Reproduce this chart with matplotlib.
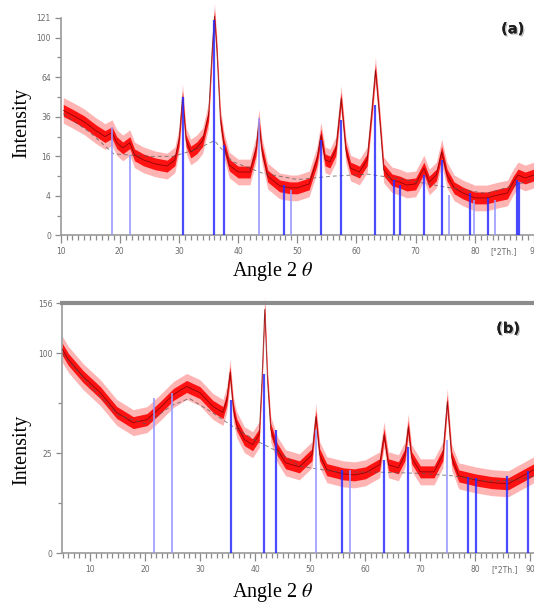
import numpy as np
import matplotlib
matplotlib.use("Agg")
import matplotlib.pyplot as plt
from matplotlib import patheffects
from matplotlib.ticker import FixedLocator, MultipleLocator

# ---------------- panel (a) ----------------
two_theta_a = [10.45, 12, 14, 16, 17.5, 18.7, 19.5, 20.5, 21.7, 22.5, 24, 26, 28, 29.3,
               30.0, 30.6, 31.2, 32, 33, 34, 35.0, 35.6, 36.0, 36.4, 37.0, 37.6, 38.5,
               40, 42, 43.0, 43.5, 44.0, 45, 47, 48.8, 50, 52, 53.3, 54.0, 54.7, 55.5,
               56.5, 57.4, 58.2, 59, 60.5, 61.8, 62.6, 63.2, 63.8, 64.6, 66, 67.3, 68.5,
               70, 71.4, 72.3, 73.5, 74.4, 75.3, 76.5, 78, 80, 82, 84, 85.5, 86.5, 87.3,
               88.5, 90.0]
counts_a = [40, 37, 33, 28, 25, 27, 22, 19.6, 22, 16.6, 14.6, 13.1, 12.3, 14.6,
            23, 49, 23, 17.8, 19.6, 23, 37, 88, 123, 88, 34, 21, 12.7,
            10.3, 10.3, 18.7, 33, 18.7, 9.0, 6.3, 5.8, 5.8, 6.8, 14.6, 25.8, 14.6, 13.8,
            18.7, 48, 18.7, 11.6, 10.3, 14.6, 40, 70, 40, 11, 7.9, 7.3, 6.5,
            6.8, 11.6, 7.3, 9.35, 17.8, 9.35, 5.8, 4.6, 3.6, 3.6, 4.2, 4.6, 7.3, 9.35,
            8.45, 9.35]
bg_theta_a = [10.45, 15, 19, 25, 29, 33, 36, 39, 44, 50, 56, 62, 68, 75, 82, 90.0]
bg_counts_a = [38, 27, 17, 16, 16, 19, 23, 14, 10, 8, 9, 9.6, 8, 6, 4.5, 8]
ref_pos_a_strong = [30.6, 36.0, 37.6, 47.7, 54.0, 57.4, 63.2, 66.3, 67.3, 71.4, 74.4,
                    79.2, 82.3, 87.1, 87.5]
ref_int_a_strong = [49, 119, 20.9, 6.5, 23.3, 34.1, 43.5, 7.9, 6.5, 9.35, 14.6,
                    4.6, 3.6, 7.9, 7.3]
ref_pos_a_weak = [18.7, 21.7, 43.5, 48.9, 75.6, 79.8, 83.4]
ref_int_a_weak = [30.1, 16.6, 35.3, 5.3, 4.2, 3.2, 3.2]
yticks_a = [0, 4, 16, 36, 64, 100, 121]
ylabels_a = ["0", "4", "16", "36", "64", "100", "121"]
yminor_a = [1, 9, 25, 49, 81]

# ---------------- panel (b) ----------------
two_theta_b = [4.9, 6, 8.7, 11.8, 14.8, 17.8, 20.3, 22.7, 25.1, 27.5, 29.9, 32.3, 34.1,
               34.8, 35.4, 36.0, 36.6, 38, 39.5, 40.7, 41.2, 41.7, 42.2, 42.8, 44, 45.5,
               48, 50.3, 51.0, 51.7, 53, 56, 58, 60, 62.6, 63.4, 64.2, 66, 67.2, 67.8,
               68.4, 70, 72.5, 74.1, 74.9, 75.7, 77, 80, 83, 86, 88, 90.67]
counts_b = [104, 94, 78, 64.6, 49.6, 42.7, 44.7, 53.1, 63.1, 69.6, 64.6, 53.9, 49.6,
            59.1, 81.8, 51.7, 41.4, 32.3, 29.5, 35.2, 75.6, 148.8, 75.6, 38.3, 26.9, 20.5,
            18.7, 24.3, 46.7, 24.3, 17.5, 15.8, 15.4, 16.2, 19.6, 35.2, 19.6, 18.3, 24.3, 40.1,
            22.9, 16.6, 16.6, 24.3, 57.6, 22.9, 15.0, 13.5, 12.5, 12.1, 14.3, 17.5]
bg_theta_b = [4.9, 10, 15, 20, 25, 28, 32, 36, 40, 44, 48, 55, 62, 70, 76, 82, 88, 90.67]
bg_counts_b = [100, 70, 48, 42, 55, 60, 50, 40, 32, 26, 19, 16.5, 16.5, 16, 15, 13, 13.5, 15]
ref_pos_b_strong = [35.5, 41.6, 43.7, 55.8, 63.4, 67.8, 78.7, 80.1, 85.7, 89.6]
ref_int_b_strong = [59.1, 80, 38.3, 17.5, 21.9, 28.4, 14.7, 14.3, 15.0, 17.1]
ref_pos_b_weak = [21.5, 24.9, 51.0, 57.3, 74.9]
ref_int_b_weak = [60.7, 64.6, 38.3, 17.5, 32.3]
yticks_b = [0, 25, 100, 156.25]
ylabels_b = ["0", "25", "100", "156"]
yminor_b = [6.25, 56.25]

x_labels = [10, 20, 30, 40, 50, 60, 70, 80, 90]

plt.rcParams["mathtext.fontset"] = "stix"
SERIF = ["Liberation Serif", "DejaVu Serif"]


def sqrt_fwd(v):
    return np.sqrt(np.clip(v, 0, None))


def sqrt_inv(s):
    return np.square(s)


def draw_panel(ax, tt, cnt, bg_t, bg_c, pos_s, int_s, pos_w, int_w,
               xlim, yticks, ylabels, yminor, unit_x, tag, tag_xy, top_line):
    ax.set_yscale("function", functions=(sqrt_fwd, sqrt_inv))
    tt = np.asarray(tt, float)
    root = np.sqrt(np.asarray(cnt, float))
    # noise envelope drawn as bands around the measured profile (in sqrt space)
    outer_lo = np.clip(root - 0.65, 0, None) ** 2
    outer_hi = (root + 0.65) ** 2
    inner_lo = np.clip(root - 0.3, 0, None) ** 2
    inner_hi = (root + 0.3) ** 2
    ax.fill_between(tt, outer_lo, outer_hi, color="#ff5a5a", alpha=0.45, lw=0,
                    clip_on=False, zorder=2)
    ax.fill_between(tt, inner_lo, inner_hi, color="#ff0000", alpha=0.9, lw=0,
                    clip_on=False, zorder=3)
    ax.plot(tt, cnt, color="#600000", lw=0.6, alpha=0.7, zorder=4, clip_on=False)
    ax.plot(bg_t, bg_c, color="#555555", lw=0.7, alpha=0.7, dashes=(4, 3), zorder=4)

    # reference stick pattern
    ax.vlines(pos_w, 0, int_w, color="#9a9aff", lw=1.3, alpha=0.9, zorder=5)
    ax.vlines(pos_s, 0, int_s, color="#2b2bff", lw=1.6, alpha=0.85, zorder=5)

    ax.set_xlim(*xlim)
    ax.set_ylim(0, yticks[-1])
    ax.set_xticks(x_labels)
    ax.set_xticklabels([str(v) for v in x_labels])
    ax.xaxis.set_minor_locator(MultipleLocator(1))
    ax.yaxis.set_major_locator(FixedLocator(yticks))
    ax.set_yticklabels(ylabels)
    ax.yaxis.set_minor_locator(FixedLocator(yminor))
    ax.tick_params(axis="both", which="both", direction="out", color="#8a8a8a",
                   labelsize=5.5, labelcolor="#6a6a6a", width=0.9)
    ax.tick_params(axis="x", which="major", length=6, pad=2.5)
    ax.tick_params(axis="x", which="minor", length=3.5)
    ax.tick_params(axis="y", which="major", length=4, pad=3)
    ax.tick_params(axis="y", which="minor", length=3)

    for side in ("left", "bottom"):
        ax.spines[side].set_color("#9a9a9a")
        ax.spines[side].set_linewidth(1.2)
    ax.spines["right"].set_visible(False)
    if top_line:
        ax.spines["top"].set_color("#8c8c8c")
        ax.spines["top"].set_linewidth(3)
    else:
        ax.spines["top"].set_visible(False)

    ax.annotate("[\u00b02Th.]", xy=(unit_x, 0), xycoords=("data", "axes fraction"),
                xytext=(0, -8.5), textcoords="offset points", ha="center", va="top",
                fontsize=5.5, color="#6a6a6a")
    t = ax.text(tag_xy[0], tag_xy[1], tag, transform=ax.transAxes, ha="center",
                va="center", fontsize=10.5, fontweight="bold", color="#1e1e1e",
                family="DejaVu Sans")
    t.set_path_effects([patheffects.withSimplePatchShadow(offset=(1, -1), alpha=0.25),
                        patheffects.Normal()])


fig = plt.figure(figsize=(5.34, 6.03), dpi=100)
ax_a = fig.add_axes([0.1135, 0.6095, 0.8865, 0.3608])
ax_b = fig.add_axes([0.1167, 0.0823, 0.8833, 0.4147])

draw_panel(ax_a, two_theta_a, counts_a, bg_theta_a, bg_counts_a,
           ref_pos_a_strong, ref_int_a_strong, ref_pos_a_weak, ref_int_a_weak,
           (10.45, 90.0), yticks_a, ylabels_a, yminor_a, 84.8, "(a)",
           (0.955, 0.95), False)
draw_panel(ax_b, two_theta_b, counts_b, bg_theta_b, bg_counts_b,
           ref_pos_b_strong, ref_int_b_strong, ref_pos_b_weak, ref_int_b_weak,
           (4.9, 90.67), yticks_b, ylabels_b, yminor_b, 85.4, "(b)",
           (0.945, 0.9), True)

for yc in (0.797, 0.254):
    fig.text(0.041, yc, "Intensity", rotation=90, ha="center", va="center",
             fontsize=14.5, family=SERIF)
for yc in (0.549, 0.018):
    fig.text(0.511, yc, r"Angle 2 $\theta$", ha="center", va="center",
             fontsize=14.5, family=SERIF)

fig.savefig("out.png", dpi=100)
